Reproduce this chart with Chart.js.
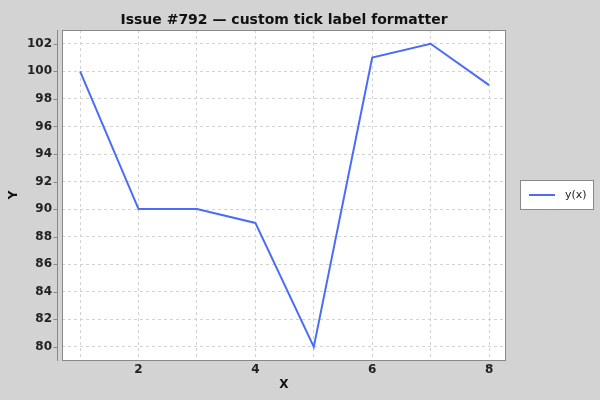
<!DOCTYPE html>
<html lang="en">
<head>
<meta charset="UTF-8">
<title>Issue #792</title>
<script src="https://cdn.jsdelivr.net/npm/chart.js"></script>
<style>
html, body {
  margin: 0;
  padding: 0;
  background: #d3d3d3;
}
canvas {
  display: block;
}
</style>
</head>
<body>
<canvas id="chart" width="600" height="400"></canvas>
<script>
// data
const xValues = [1, 2, 3, 4, 5, 6, 7, 8];
const yValues = [100, 90, 90, 89, 80, 101, 102, 99];
const xTicks = [1, 2, 3, 4, 5, 6, 7, 8];
const xLabelled = [2, 4, 6, 8];
const yTicks = [80, 82, 84, 86, 88, 90, 92, 94, 96, 98, 100, 102];
const seriesName = "y(x)";

const lineColor = "#4a6cf8";
const gridColor = "#d2d2d2";
const font = "'DejaVu Sans', sans-serif";

// plot frame, offset left axis and boxed legend (JFreeChart look)
const framePlugin = {
  id: "frame",
  beforeDraw(chart) {
    const { ctx, chartArea: a } = chart;
    ctx.save();
    ctx.fillStyle = "#d3d3d3";
    ctx.fillRect(0, 0, chart.width, chart.height);
    ctx.fillStyle = "#ffffff";
    ctx.fillRect(a.left, a.top, a.right - a.left, a.bottom - a.top);
    ctx.restore();
  },
  afterDraw(chart) {
    const { ctx, chartArea: a } = chart;
    const y = chart.scales.y;
    ctx.save();
    ctx.strokeStyle = "#888888";
    ctx.lineWidth = 1;
    ctx.strokeRect(a.left + 0.5, a.top + 0.5, a.right - a.left - 1, a.bottom - a.top);

    // left axis line, set a few px off the plot
    const ax = Math.round(a.left) - 4.5;
    ctx.beginPath();
    ctx.moveTo(ax, a.top);
    ctx.lineTo(ax, a.bottom + 1);
    y.ticks.forEach(t => {
      const py = Math.round(y.getPixelForValue(t.value)) + 0.5;
      ctx.moveTo(ax - 4, py);
      ctx.lineTo(ax, py);
    });
    ctx.stroke();

    // legend box
    const lx = a.right + 14, ly = (a.top + a.bottom) / 2 - 15;
    ctx.fillStyle = "#ffffff";
    ctx.fillRect(lx, ly, 74, 30);
    ctx.strokeStyle = "#888888";
    ctx.strokeRect(lx + 0.5, ly + 0.5, 73, 29);
    ctx.strokeStyle = lineColor;
    ctx.lineWidth = 2;
    ctx.beginPath();
    ctx.moveTo(lx + 9, ly + 15);
    ctx.lineTo(lx + 35, ly + 15);
    ctx.stroke();
    ctx.fillStyle = "#222222";
    ctx.font = "11px " + font;
    ctx.textBaseline = "middle";
    ctx.fillText(seriesName, lx + 45, ly + 15.5);
    ctx.restore();
  }
};

new Chart(document.getElementById("chart"), {
  type: "line",
  data: {
    datasets: [{
      label: seriesName,
      data: xValues.map((x, i) => ({ x: x, y: yValues[i] })),
      borderColor: lineColor,
      borderWidth: 2,
      pointRadius: 0,
      tension: 0,
      fill: false
    }]
  },
  options: {
    responsive: false,
    animation: false,
    devicePixelRatio: 1,
    layout: { padding: { left: 0, right: 94, top: 0, bottom: 0 } },
    plugins: {
      legend: { display: false },
      tooltip: { enabled: false },
      title: {
        display: true,
        fullSize: false,
        text: "Issue #792 \u2014 custom tick label formatter",
        color: "#111111",
        font: { family: font, size: 14, weight: "bold" },
        padding: { top: 12, bottom: 1.2 }
      }
    },
    scales: {
      x: {
        type: "linear",
        min: 0.69,
        max: 8.29,
        afterBuildTicks: s => { s.ticks = xTicks.map(v => ({ value: v })); },
        afterFit: s => { s.height = 40; },
        ticks: {
          autoSkip: false,
          maxRotation: 0,
          padding: 3,
          color: "#222222",
          font: { family: font, size: 12, weight: "bold" },
          callback: v => xLabelled.includes(v) ? String(v) : ""
        },
        grid: { color: gridColor, drawTicks: false },
        border: { display: false, dash: [3, 3] },
        title: {
          display: true,
          text: "X",
          color: "#111111",
          font: { family: font, size: 12, weight: "bold" },
          padding: { top: 0, bottom: 8 }
        }
      },
      y: {
        type: "linear",
        min: 79.05,
        max: 103.0,
        afterBuildTicks: s => { s.ticks = yTicks.map(v => ({ value: v })); },
        afterFit: s => { s.width = 62; },
        ticks: {
          padding: 10,
          color: "#222222",
          font: { family: font, size: 12, weight: "bold" }
        },
        grid: { color: gridColor, drawTicks: false },
        border: { display: false, dash: [3, 3] },
        title: {
          display: true,
          text: "Y",
          color: "#111111",
          font: { family: font, size: 12, weight: "bold" },
          padding: { top: 7, bottom: 0 }
        }
      }
    }
  },
  plugins: [framePlugin]
});
</script>
</body>
</html>
